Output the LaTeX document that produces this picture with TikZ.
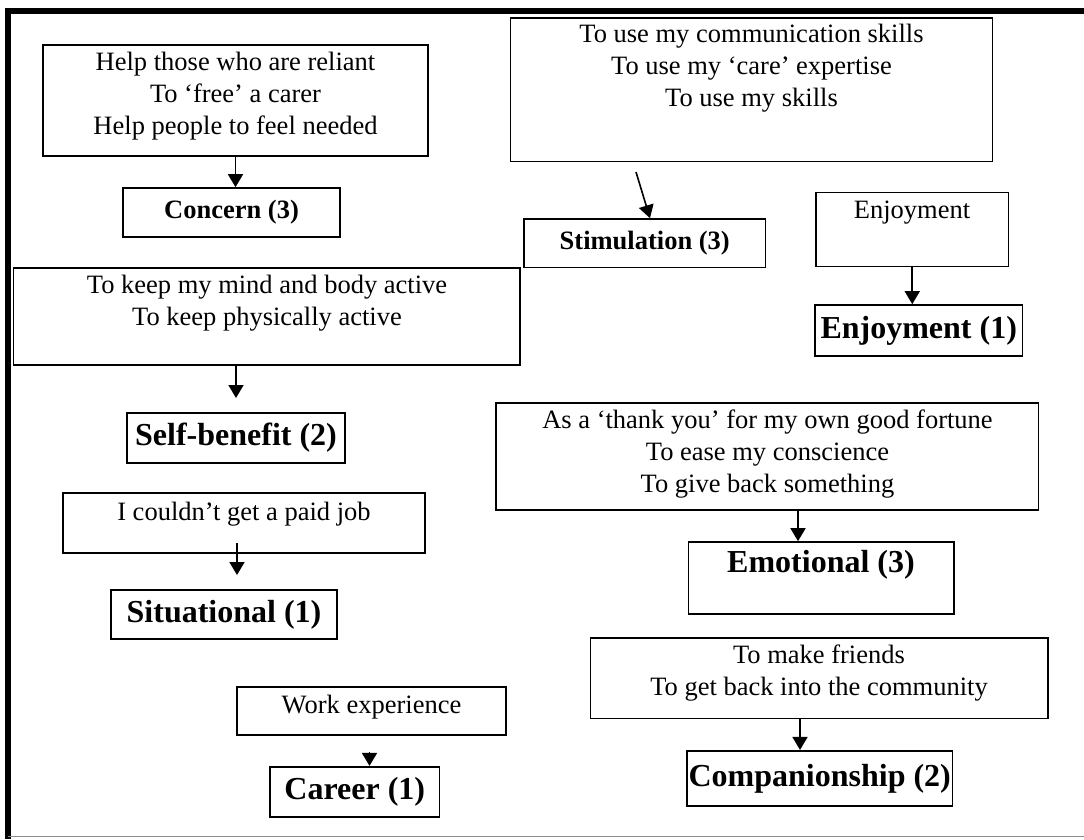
\documentclass[tikz,border=0pt]{standalone}
\usepackage{fontspec}
\setmainfont{Liberation Serif}
\usetikzlibrary{arrows.meta}

\newlength{\du}
\setlength{\du}{1pt}

\tikzset{
  mbox/.style={draw, line width=1.6\du, inner sep=0pt},
  reason/.style={font=\fontsize{26.5}{32}\selectfont, align=center, inner sep=0pt},
  slabel/.style={font=\fontsize{26.5}{32}\selectfont\bfseries},
  blabel/.style={font=\fontsize{32}{38}\selectfont\bfseries},
  arr/.style={line width=1.6\du, -{Triangle[length=13pt,width=15pt]}}
}

\begin{document}
\begin{tikzpicture}
\pgftransformxscale{1.000000}
\pgftransformyscale{-1.000000}
\useasboundingbox (0\du,0\du) rectangle (1084\du,839\du);
% frame
\draw[line width=5.5\du] (8\du,839\du) -- (8\du,11\du) -- (1084\du,11\du);
\draw[line width=1.2\du, black!45] (8\du,836.5\du) -- (1084\du,836.5\du);

% concern
\node[mbox, minimum width=385\du, minimum height=111\du] (helpbox) at (235.5\du,100.5\du) {};
\node[reason] (helptext) at (235.5\du,96\du) {Help those who are reliant\\To ‘free’ a carer\\Help people to feel needed};
\node[mbox, slabel, minimum width=217\du, minimum height=49\du] (concernbox) at (231.5\du,212.5\du) {Concern (3)};
\draw[arr] (helpbox.south) -- (helpbox.south |- concernbox.north);

% stimulation
\node[mbox, minimum width=482\du, minimum height=143.5\du] (commbox) at (751.5\du,89.75\du) {};
\node[reason] (commtext) at (751.5\du,68.5\du) {To use my communication skills\\To use my ‘care’ expertise\\To use my skills};
\node[mbox, slabel, minimum width=241.5\du, minimum height=48.5\du] (stimbox) at (644.75\du,243.25\du) {Stimulation (3)};
\coordinate (commtail) at (636\du,172\du);
\coordinate (stimtip) at (650\du,219\du);
\draw[arr] (commtail) -- (stimtip |- stimbox.north);

% enjoyment
\node[mbox, minimum width=192.5\du, minimum height=74\du] (enjoybox) at (912.25\du,229.6\du) {};
\node[reason] (enjoytext) at (912\du,213\du) {Enjoyment};
\node[mbox, blabel, minimum width=207.5\du, minimum height=51\du] (enjoyonebox) at (918.75\du,330.5\du) {Enjoyment (1)};
\draw[arr] (enjoybox.south) -- (enjoybox.south |- enjoyonebox.north);

% self-benefit
\node[mbox, minimum width=506.5\du, minimum height=97\du] (keepbox) at (266.75\du,316.5\du) {};
\node[reason] (keeptext) at (267\du,303\du) {To keep my mind and body active\\To keep physically active};
\node[mbox, blabel, minimum width=218\du, minimum height=50\du] (selfbox) at (236\du,438\du) {Self-benefit (2)};
\coordinate (selftip) at (236\du,398\du);
\draw[arr] (keepbox.south -| selftip) -- (selftip);

% situational
\node[mbox, minimum width=362\du, minimum height=59.7\du] (jobbox) at (244\du,522.9\du) {};
\node[reason] (jobtext) at (244\du,514\du) {I couldn’t get a paid job};
\node[mbox, blabel, minimum width=226\du, minimum height=49\du] (sitbox) at (224\du,614.5\du) {Situational (1)};
\coordinate (jobtail) at (237\du,543\du);
\coordinate (sittip) at (237\du,575\du);
\draw[arr] (jobtail) -- (sittip);

% career
\node[mbox, minimum width=269\du, minimum height=48.3\du] (workbox) at (371.5\du,710.85\du) {};
\node[reason] (worktext) at (371.5\du,707.5\du) {Work experience};
\node[mbox, blabel, minimum width=169.5\du, minimum height=50\du] (careerbox) at (354.75\du,791.7\du) {Career (1)};
\coordinate (worktail) at (369.5\du,752\du);
\draw[arr] (worktail) -- (worktail |- careerbox.north);

% emotional
\node[mbox, minimum width=542.5\du, minimum height=107\du] (thankbox) at (767.25\du,456.5\du) {};
\node[reason] (thanktext) at (767.5\du,454\du) {As a ‘thank you’ for my own good fortune\\To ease my conscience\\To give back something};
\node[mbox, minimum width=265.5\du, minimum height=72\du] (emobox) at (821.25\du,578\du) {};
\node[blabel] (emotext) at (821\du,565\du) {Emotional (3)};
\coordinate (emox) at (798\du,542\du);
\draw[arr] (thankbox.south -| emox) -- (emox |- emobox.north);

% companionship
\node[mbox, minimum width=457.5\du, minimum height=80.5\du] (friendsbox) at (819.25\du,678.25\du) {};
\node[reason] (friendstext) at (819\du,673.5\du) {To make friends\\To get back into the community};
\node[mbox, blabel, minimum width=265.5\du, minimum height=55.5\du] (compbox) at (819.75\du,778.5\du) {Companionship (2)};
\coordinate (compx) at (800\du,750\du);
\draw[arr] (friendsbox.south -| compx) -- (compx |- compbox.north);
\end{tikzpicture}
\end{document}
